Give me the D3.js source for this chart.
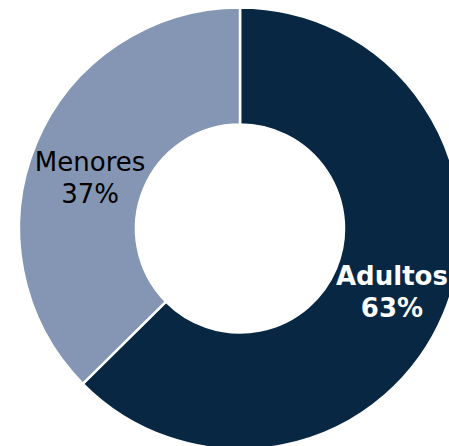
<!DOCTYPE html>
<html>
<head>
<meta charset="utf-8">
<script src="https://cdn.jsdelivr.net/npm/d3@7"></script>
<style>
  body { margin: 0; background: #fff; }
  text { font-family: "DejaVu Sans", Verdana, sans-serif; }
</style>
</head>
<body>
<div id="chart"></div>
<script>
const categories = ["Adultos", "Menores"];
const values = [62.6, 37.4];
const colors = ["#082742", "#8596b4"];
const labelColors = ["#ffffff", "#000000"];
const labelWeights = ["bold", "normal"];

const width = 449, height = 446;
const cx = 240, cy = 228.5;
const outerR = 221, innerR = 104;
// small label nudges (Excel-style placement)
const nudge = [[2, 0], [0, 12]];

const data = categories.map((c, i) => ({group: c, value: values[i], i: i}));

const svg = d3.select("#chart")
  .append("svg")
    .attr("width", width)
    .attr("height", height)
  .append("g")
    .attr("transform", `translate(${cx},${cy})`);

const pie = d3.pie()
  .sort(null)
  .value(d => d.value);

const arc = d3.arc()
  .innerRadius(innerR)
  .outerRadius(outerR);

const arcs = pie(data);

svg.selectAll("path")
  .data(arcs)
  .join("path")
    .attr("d", arc)
    .attr("fill", d => colors[d.data.i])
    .attr("stroke", "#fff")
    .attr("stroke-width", 2.5);

// labels: name + percentage, two lines centred on the ring centroid
const labels = svg.selectAll("text.lbl")
  .data(arcs)
  .join("text")
    .attr("class", "lbl")
    .attr("transform", d => {
      const [x, y] = arc.centroid(d);
      const [nx, ny] = nudge[d.data.i];
      return `translate(${x + nx},${y + ny})`;
    })
    .attr("text-anchor", "middle")
    .attr("font-size", 26)
    .attr("font-weight", d => labelWeights[d.data.i])
    .attr("fill", d => labelColors[d.data.i]);

labels.append("tspan")
  .attr("x", 0)
  .attr("y", -6.5)
  .text(d => d.data.group);

labels.append("tspan")
  .attr("x", 0)
  .attr("y", 25.5)
  .text(d => Math.round(d.data.value) + "%");
</script>
</body>
</html>
